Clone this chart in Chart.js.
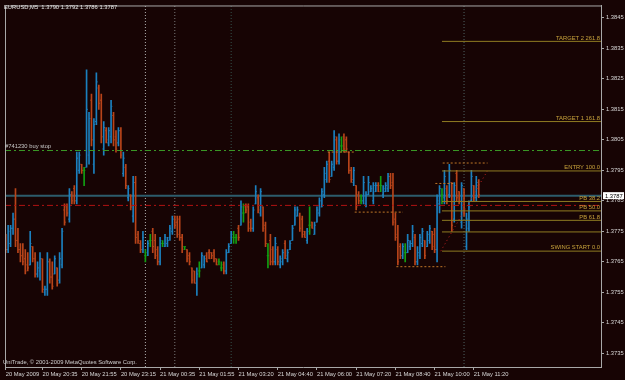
<!DOCTYPE html>
<html>
<head>
<meta charset="utf-8">
<script src="https://cdn.jsdelivr.net/npm/chart.js@4.4.1/dist/chart.umd.min.js"></script>
<style>
  html, body { margin: 0; padding: 0; background: #170404; }
  #wrap { width: 625px; height: 380px; }
</style>
</head>
<body>
<div id="wrap"><canvas id="mtChart" width="625" height="380"></canvas></div>
<script>
// EURUSD M5 bars, 20 May 19:20 -> 21 May 11:25
const opens = [
  1.3773,1.3769,1.3771,1.3776,1.3779,1.3772,1.3769,1.3767,1.3766,1.3764,
  1.3764,1.3770,1.3766,1.3761,1.3762,1.3766,1.3755,1.3756,1.3765,1.3760,
  1.3761,1.3763,1.3759,1.3764,1.3782,1.3783,1.3779,1.3787,1.3789,1.3785,
  1.3795,1.3797,1.3795,1.3796,1.3800,1.3818,1.3797,1.3811,1.3822,1.3818,
  1.3802,1.3808,1.3804,1.3806,1.3813,1.3806,1.3804,1.3808,1.3794,1.3796,
  1.3786,1.3787,1.3780,1.3791,1.3774,1.3771,1.3769,1.3767,1.3768,1.3772,
  1.3775,1.3772,1.3769,1.3765,1.3771,1.3770,1.3771,1.3773,1.3775,1.3780,
  1.3778,1.3779,1.3773,1.3770,1.3769,1.3767,1.3763,1.3762,1.3758,1.3762,
  1.3763,1.3764,1.3767,1.3768,1.3768,1.3768,1.3766,1.3765,1.3763,1.3764,
  1.3762,1.3768,1.3771,1.3773,1.3773,1.3776,1.3777,1.3781,1.3783,1.3783,
  1.3778,1.3776,1.3784,1.3786,1.3781,1.3783,1.3777,1.3767,1.3772,1.3769,
  1.3765,1.3769,1.3764,1.3765,1.3771,1.3766,1.3769,1.3772,1.3777,1.3780,
  1.3780,1.3779,1.3775,1.3772,1.3777,1.3778,1.3774,1.3778,1.3781,1.3783,
  1.3787,1.3792,1.3798,1.3793,1.3796,1.3805,1.3798,1.3803,1.3806,1.3805,
  1.3801,1.3795,1.3791,1.3790,1.3787,1.3785,1.3785,1.3784,1.3787,1.3788,
  1.3785,1.3788,1.3790,1.3790,1.3787,1.3788,1.3789,1.3793,1.3791,1.3779,
  1.3774,1.3770,1.3767,1.3768,1.3768,1.3770,1.3771,1.3773,1.3765,1.3767,
  1.3771,1.3772,1.3770,1.3772,1.3775,1.3774,1.3769,1.3784,1.3787,1.3786,
  1.3789,1.3787,1.3791,1.3779,1.3794,1.3788,1.3778,1.3789,1.3770,1.3776,
  1.3785,1.3790,1.3786,1.3790
];
const highs = [
  1.3774,1.3777,1.3777,1.3781,1.3789,1.3776,1.3771,1.3771,1.3769,1.3768,
  1.3775,1.3770,1.3768,1.3765,1.3768,1.3766,1.3757,1.3768,1.3766,1.3765,
  1.3767,1.3763,1.3768,1.3776,1.3784,1.3784,1.3789,1.3788,1.3790,1.3801,
  1.3801,1.3797,1.3796,1.3828,1.3814,1.3820,1.3812,1.3827,1.3823,1.3820,
  1.3811,1.3809,1.3809,1.3818,1.3814,1.3808,1.3809,1.3809,1.3801,1.3797,
  1.3790,1.3787,1.3793,1.3793,1.3775,1.3772,1.3775,1.3769,1.3772,1.3774,
  1.3776,1.3774,1.3770,1.3773,1.3772,1.3774,1.3773,1.3777,1.3780,1.3780,
  1.3780,1.3780,1.3774,1.3770,1.3769,1.3768,1.3763,1.3762,1.3763,1.3765,
  1.3768,1.3767,1.3768,1.3769,1.3768,1.3769,1.3766,1.3766,1.3765,1.3765,
  1.3769,1.3771,1.3775,1.3775,1.3774,1.3777,1.3785,1.3784,1.3784,1.3784,
  1.3779,1.3783,1.3790,1.3787,1.3789,1.3783,1.3778,1.3771,1.3774,1.3770,
  1.3773,1.3770,1.3767,1.3769,1.3772,1.3769,1.3772,1.3777,1.3783,1.3783,
  1.3781,1.3780,1.3775,1.3776,1.3783,1.3778,1.3778,1.3783,1.3786,1.3789,
  1.3796,1.3798,1.3801,1.3798,1.3808,1.3806,1.3807,1.3806,1.3807,1.3806,
  1.3801,1.3796,1.3796,1.3790,1.3788,1.3787,1.3793,1.3788,1.3793,1.3790,
  1.3791,1.3791,1.3791,1.3793,1.3790,1.3791,1.3794,1.3794,1.3794,1.3781,
  1.3777,1.3771,1.3771,1.3771,1.3774,1.3772,1.3777,1.3774,1.3770,1.3774,
  1.3776,1.3772,1.3775,1.3777,1.3775,1.3776,1.3787,1.3790,1.3789,1.3795,
  1.3790,1.3797,1.3791,1.3791,1.3795,1.3788,1.3791,1.3789,1.3781,1.3785,
  1.3795,1.3790,1.3793,1.3792
];
const lows = [
  1.3768,1.3768,1.3770,1.3774,1.3770,1.3768,1.3765,1.3764,1.3761,1.3762,
  1.3764,1.3765,1.3760,1.3760,1.3759,1.3755,1.3754,1.3754,1.3758,1.3756,
  1.3761,1.3757,1.3758,1.3763,1.3777,1.3780,1.3778,1.3784,1.3784,1.3784,
  1.3794,1.3794,1.3790,1.3796,1.3797,1.3803,1.3794,1.3810,1.3815,1.3804,
  1.3800,1.3804,1.3803,1.3804,1.3803,1.3801,1.3803,1.3799,1.3793,1.3789,
  1.3785,1.3782,1.3778,1.3771,1.3771,1.3768,1.3768,1.3765,1.3767,1.3770,
  1.3768,1.3766,1.3764,1.3764,1.3770,1.3770,1.3770,1.3772,1.3774,1.3776,
  1.3773,1.3772,1.3768,1.3769,1.3765,1.3764,1.3758,1.3758,1.3754,1.3760,
  1.3763,1.3763,1.3765,1.3766,1.3766,1.3765,1.3764,1.3764,1.3762,1.3761,
  1.3761,1.3768,1.3771,1.3771,1.3771,1.3772,1.3777,1.3778,1.3781,1.3775,
  1.3775,1.3775,1.3784,1.3781,1.3780,1.3775,1.3770,1.3763,1.3764,1.3764,
  1.3764,1.3764,1.3763,1.3764,1.3766,1.3765,1.3769,1.3772,1.3777,1.3780,
  1.3775,1.3773,1.3773,1.3771,1.3774,1.3776,1.3774,1.3778,1.3780,1.3783,
  1.3786,1.3791,1.3791,1.3793,1.3795,1.3797,1.3797,1.3801,1.3801,1.3801,
  1.3794,1.3791,1.3790,1.3782,1.3784,1.3784,1.3784,1.3783,1.3787,1.3788,
  1.3784,1.3788,1.3788,1.3788,1.3786,1.3788,1.3788,1.3789,1.3777,1.3772,
  1.3764,1.3766,1.3766,1.3765,1.3768,1.3769,1.3770,1.3764,1.3764,1.3766,
  1.3770,1.3766,1.3770,1.3771,1.3769,1.3768,1.3765,1.3781,1.3784,1.3784,
  1.3784,1.3786,1.3775,1.3778,1.3785,1.3784,1.3776,1.3780,1.3769,1.3775,
  1.3785,1.3785,1.3785,1.3786
];
const closes = [
  1.3769,1.3775,1.3776,1.3779,1.3772,1.3769,1.3767,1.3765,1.3762,1.3763,
  1.3771,1.3766,1.3761,1.3763,1.3766,1.3756,1.3756,1.3765,1.3760,1.3757,
  1.3766,1.3758,1.3766,1.3775,1.3778,1.3781,1.3787,1.3785,1.3785,1.3799,
  1.3800,1.3795,1.3795,1.3815,1.3812,1.3805,1.3810,1.3824,1.3817,1.3806,
  1.3809,1.3805,1.3808,1.3816,1.3805,1.3802,1.3808,1.3800,1.3799,1.3790,
  1.3789,1.3783,1.3791,1.3773,1.3772,1.3769,1.3773,1.3767,1.3771,1.3772,
  1.3770,1.3767,1.3765,1.3772,1.3771,1.3773,1.3772,1.3776,1.3779,1.3777,
  1.3774,1.3773,1.3769,1.3770,1.3766,1.3765,1.3759,1.3758,1.3761,1.3762,
  1.3767,1.3766,1.3765,1.3766,1.3767,1.3766,1.3764,1.3765,1.3763,1.3762,
  1.3768,1.3770,1.3774,1.3773,1.3773,1.3773,1.3783,1.3781,1.3782,1.3776,
  1.3776,1.3782,1.3788,1.3782,1.3788,1.3776,1.3771,1.3767,1.3765,1.3765,
  1.3771,1.3765,1.3766,1.3768,1.3767,1.3768,1.3771,1.3776,1.3782,1.3782,
  1.3776,1.3774,1.3773,1.3775,1.3777,1.3776,1.3777,1.3782,1.3785,1.3788,
  1.3794,1.3797,1.3792,1.3797,1.3806,1.3798,1.3805,1.3803,1.3802,1.3802,
  1.3795,1.3792,1.3795,1.3783,1.3785,1.3785,1.3791,1.3787,1.3791,1.3789,
  1.3790,1.3790,1.3788,1.3790,1.3789,1.3790,1.3793,1.3790,1.3778,1.3773,
  1.3765,1.3767,1.3770,1.3768,1.3772,1.3771,1.3775,1.3765,1.3768,1.3773,
  1.3775,1.3767,1.3774,1.3776,1.3770,1.3769,1.3785,1.3789,1.3787,1.3793,
  1.3785,1.3795,1.3777,1.3790,1.3786,1.3785,1.3790,1.3781,1.3779,1.3783,
  1.3793,1.3786,1.3791,1.3787
];

// time axis: bar index of each label and its text
const tickBars = [0, 15, 31, 47, 63, 79, 95, 111, 127, 143, 159, 175, 191];
const tickLabels = [
  '20 May 2009', '20 May 20:35', '20 May 21:55', '20 May 23:15', '21 May 00:35',
  '21 May 01:55', '21 May 03:20', '21 May 04:40', '21 May 06:00', '21 May 07:20',
  '21 May 08:40', '21 May 10:00', '21 May 11:20'
];
const priceTicks = [1.3735, 1.3745, 1.3755, 1.3765, 1.3775, 1.3785, 1.3795, 1.3805,
  1.3815, 1.3825, 1.3835, 1.3845];

// objects on the chart
const buyStopPrice = 1.38015;
const bidPrice = 1.37867;
const stopPrice = 1.37835;

const fibLevels = [1.38373, 1.38110, 1.37948, 1.37848, 1.37817, 1.37786, 1.37748, 1.37685];
const fibNames = ['TARGET 2 261.8', 'TARGET 1 161.8', 'ENTRY 100.0', 'PB 38.2', 'PB 50.0',
  'PB 61.8', '', 'SWING START 0.0'];
const fibStartBar = 178;
const fibTrendBars = [177.5, 196.5];
const fibTrendPrices = [1.37685, 1.37948];

const boxStartBars = [131.4, 142.4, 159.4, 175.3, 178.3];
const boxEndBars = [142.5, 162.1, 179.4, 183.4, 196.6];
const boxPrices = [1.38010, 1.37813, 1.37634, 1.37907, 1.37974];

const vLineBars = [57, 69, 92, 187];
const vLineColors = ['#b0b0b0', '#7a7a7a', '#34504a', '#506464'];

const X_MIN = -0.28, X_MAX = 242.88;
const Y_MIN = 1.37305, Y_MAX = 1.384907;

const UP = '#1b80bf', DOWN = '#b8441a', DOJI = '#12a012';
const FONT = { family: 'Liberation Sans', size: 5.8 };

function barColor(i) {
  if (closes[i] > opens[i]) return UP;
  if (closes[i] < opens[i]) return DOWN;
  return DOJI;
}

function hLine(price, from, to, color, dash, width, order) {
  return {
    type: 'line',
    data: [{ x: from, y: price }, { x: to, y: price }],
    borderColor: color, borderWidth: width, borderDash: dash,
    pointRadius: 0, order: order
  };
}

const datasets = [];

// OHLC bars: high-low range plus open / close ticks
datasets.push({
  type: 'bar',
  data: highs.map((h, i) => ({ x: i, y: [lows[i], h] })),
  backgroundColor: ctx => barColor(ctx.dataIndex),
  barThickness: 1,
  borderWidth: 0,
  order: 2
});
datasets.push({
  type: 'scatter',
  data: opens.map((o, i) => ({ x: i - 0.3, y: o })),
  pointStyle: 'line', pointRadius: 0.5, pointBorderWidth: 1,
  pointBorderColor: ctx => barColor(ctx.dataIndex),
  order: 2
});
datasets.push({
  type: 'scatter',
  data: closes.map((c, i) => ({ x: i + 0.3, y: c })),
  pointStyle: 'line', pointRadius: 0.5, pointBorderWidth: 1,
  pointBorderColor: ctx => barColor(ctx.dataIndex),
  order: 2
});

// vertical dotted lines
vLineBars.forEach((b, k) => {
  datasets.push({
    type: 'line',
    data: [{ x: b, y: Y_MIN }, { x: b, y: Y_MAX }],
    borderColor: vLineColors[k], borderWidth: 1, borderDash: [1, 2],
    pointRadius: 0, order: 5
  });
});

// order / price lines
datasets.push(hLine(buyStopPrice, X_MIN, X_MAX, '#3a9a26', [6, 3, 2, 3], 1, 1));
datasets.push(hLine(bidPrice, X_MIN, X_MAX, '#2d5c6c', [], 2, 3));
datasets.push(hLine(stopPrice, X_MIN, X_MAX, '#b01212', [6, 3, 2, 3], 1, 1));

// fibonacci levels
fibLevels.forEach(v => datasets.push(hLine(v, fibStartBar, X_MAX, '#8f7c22', [], 1, 1)));
datasets.push({
  type: 'line',
  data: fibTrendBars.map((b, k) => ({ x: b, y: fibTrendPrices[k] })),
  borderColor: '#c02020', borderWidth: 1, borderDash: [1, 3],
  pointRadius: 0, order: 1
});

// dotted high / low boxes
boxPrices.forEach((p, k) => datasets.push(hLine(p, boxStartBars[k], boxEndBars[k], '#c07828', [2, 2], 1, 1)));

const mtText = {
  id: 'mtText',
  beforeDraw(chart) {
    const c = chart.ctx;
    c.save();
    c.fillStyle = '#170404';
    c.fillRect(0, 0, chart.width, chart.height);
    c.restore();
  },
  afterDraw(chart) {
    const c = chart.ctx;
    const a = chart.chartArea;
    const ys = chart.scales.y;
    const n = closes.length - 1;
    c.save();
    // frame
    c.strokeStyle = '#a8a8a8';
    c.lineWidth = 1;
    c.beginPath();
    c.moveTo(a.left + 0.5, a.bottom);
    c.lineTo(a.left + 0.5, a.top + 0.5);
    c.lineTo(a.right, a.top + 0.5);
    c.stroke();

    c.font = FONT.size + 'px ' + FONT.family;
    c.textBaseline = 'middle';
    c.textAlign = 'left';
    c.fillStyle = '#e8e8e8';
    c.fillText('EURUSD,M5  ' + opens[n].toFixed(4) + ' ' + highs[n].toFixed(4) + ' ' +
      lows[n].toFixed(4) + ' ' + closes[n].toFixed(4), 4, 7);
    c.fillStyle = '#d0d0d0';
    c.fillText('UniTrade, \u00a9 2001-2009 MetaQuotes Software Corp.', 3, 362.5);

    // order label
    c.textBaseline = 'bottom';
    c.fillStyle = '#c8c8c8';
    c.fillText('#741230 buy stop', 5, ys.getPixelForValue(buyStopPrice) - 1);

    // fib labels
    c.textAlign = 'right';
    c.fillStyle = '#c9a43c';
    fibLevels.forEach((v, k) => {
      if (fibNames[k]) c.fillText(fibNames[k], a.right - 1, ys.getPixelForValue(v) - 0.5);
    });

    // bid price box on the axis
    const yb = ys.getPixelForValue(bidPrice);
    c.fillStyle = '#ffffff';
    c.fillRect(a.right + 2, yb - 3.5, 21, 7);
    c.fillStyle = '#000000';
    c.textAlign = 'left';
    c.textBaseline = 'middle';
    c.fillText(closes[n].toFixed(4), a.right + 4, yb + 0.5);
    c.restore();
  }
};

new Chart(document.getElementById('mtChart'), {
  type: 'bar',
  data: { datasets: datasets },
  plugins: [mtText],
  options: {
    responsive: false,
    animation: false,
    devicePixelRatio: 1,
    layout: { padding: { left: 1, top: 3, right: 0, bottom: 0 } },
    plugins: { legend: { display: false }, tooltip: { enabled: false } },
    scales: {
      x: {
        type: 'linear',
        position: 'bottom',
        min: X_MIN,
        max: X_MAX,
        offset: false,
        grid: { drawOnChartArea: false, tickLength: 3, color: '#a8a8a8', offset: false },
        border: { color: '#a8a8a8' },
        ticks: {
          color: '#d8d8d8', font: FONT, align: 'start', padding: 1,
          maxRotation: 0, minRotation: 0, autoSkip: false,
          callback: (v, i) => tickLabels[i]
        },
        afterBuildTicks: s => { s.ticks = tickBars.map(v => ({ value: v })); },
        afterFit: s => { s.height = 13; }
      },
      y: {
        type: 'linear',
        position: 'right',
        min: Y_MIN,
        max: Y_MAX,
        grid: { drawOnChartArea: false, tickLength: 3, color: '#a8a8a8' },
        border: { color: '#a8a8a8' },
        ticks: {
          color: '#d8d8d8', font: FONT, padding: 2,
          callback: v => v.toFixed(4)
        },
        afterBuildTicks: s => { s.ticks = priceTicks.map(v => ({ value: v })); },
        afterFit: s => { s.width = 24; }
      }
    }
  }
});
</script>
</body>
</html>
